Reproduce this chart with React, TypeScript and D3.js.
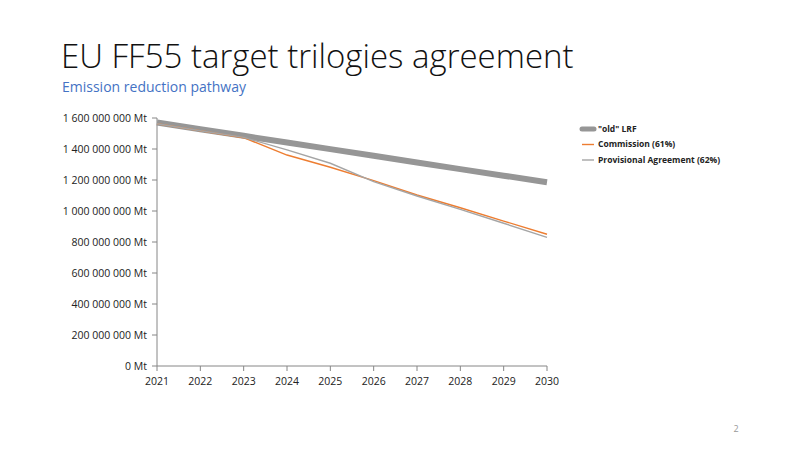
import * as React from "react";
import { formatLocale, line, scaleLinear } from "d3";

const years = [2021, 2022, 2023, 2024, 2025, 2026, 2027, 2028, 2029, 2030];
const oldLrf = [1.571, 1.528, 1.485, 1.442, 1.399, 1.356, 1.313, 1.27, 1.228, 1.185].map((v) => v * 1e9);
const commission = [1.563, 1.518, 1.473, 1.361, 1.282, 1.196, 1.103, 1.021, 0.935, 0.85].map((v) => v * 1e9);
const provisional = [1.563, 1.518, 1.475, 1.394, 1.308, 1.189, 1.097, 1.011, 0.921, 0.83].map((v) => v * 1e9);
const yTicks = [0, 2e8, 4e8, 6e8, 8e8, 1e9, 1.2e9, 1.4e9, 1.6e9];

const series = [
  { name: "\"old\" LRF", values: oldLrf, color: "#969696", width: 6 },
  { name: "Commission (61%)", values: commission, color: "#ED7D31", width: 1.4 },
  { name: "Provisional Agreement (62%)", values: provisional, color: "#A5A5A5", width: 1.4 },
];

const locale = formatLocale({ decimal: ",", thousands: " ", grouping: [3], currency: ["", ""] });
const fmt = locale.format(",d");

export default function App() {
  const x = scaleLinear().domain([2021, 2030]).range([157, 547]);
  const y = scaleLinear().domain([0, 1.6e9]).range([366, 118]);
  const font = "'Open Sans', sans-serif";

  return (
    <svg
      width={800}
      height={450}
      style={{ position: "absolute", left: 0, top: 0, background: "#fff" }}
      fontFamily={font}
    >
      <text x={61} y={68} fontSize={33} fontWeight={300} fill="#111">
        EU FF55 target trilogies agreement
      </text>
      <text x={62} y={92} fontSize={14} fontWeight={400} fill="#4472C4">
        Emission reduction pathway
      </text>

      {/* axes */}
      <line x1={157} x2={157} y1={y(1.6e9)} y2={y(0)} stroke="#868686" />
      <line x1={157} x2={547} y1={y(0)} y2={y(0)} stroke="#868686" />
      {yTicks.map((t) => (
        <g key={t}>
          <line x1={152} x2={157} y1={y(t)} y2={y(t)} stroke="#868686" />
          <text x={147} y={y(t)} dy="0.35em" textAnchor="end" fontSize={10.5} fill="#222">
            {fmt(t)} Mt
          </text>
        </g>
      ))}
      {years.map((yr) => (
        <g key={yr}>
          <line x1={x(yr)} x2={x(yr)} y1={y(0)} y2={y(0) + 5} stroke="#868686" />
          <text x={x(yr)} y={385} textAnchor="middle" fontSize={10.5} fill="#222">
            {yr}
          </text>
        </g>
      ))}

      {series.map((s) => {
        const path = line<number>()
          .x((_, i) => x(years[i]))
          .y((d) => y(d))(s.values);
        return (
          <path key={s.name} d={path || ""} fill="none" stroke={s.color} strokeWidth={s.width} />
        );
      })}

      {/* legend */}
      {series.map((s, i) => (
        <g key={s.name} transform={`translate(582, ${129 + i * 15.5})`}>
          <line
            x1={0}
            x2={12}
            y1={0}
            y2={0}
            stroke={s.color}
            strokeWidth={i === 0 ? 5 : 1.4}
            strokeLinecap={i === 0 ? "round" : "butt"}
          />
          <text x={16} y={0} dy="0.35em" fontSize={8.5} fontWeight={700} fill="#222">
            {s.name}
          </text>
        </g>
      ))}

      <text x={736} y={432} fontSize={9} fill="#999" textAnchor="middle">
        2
      </text>
    </svg>
  );
}
